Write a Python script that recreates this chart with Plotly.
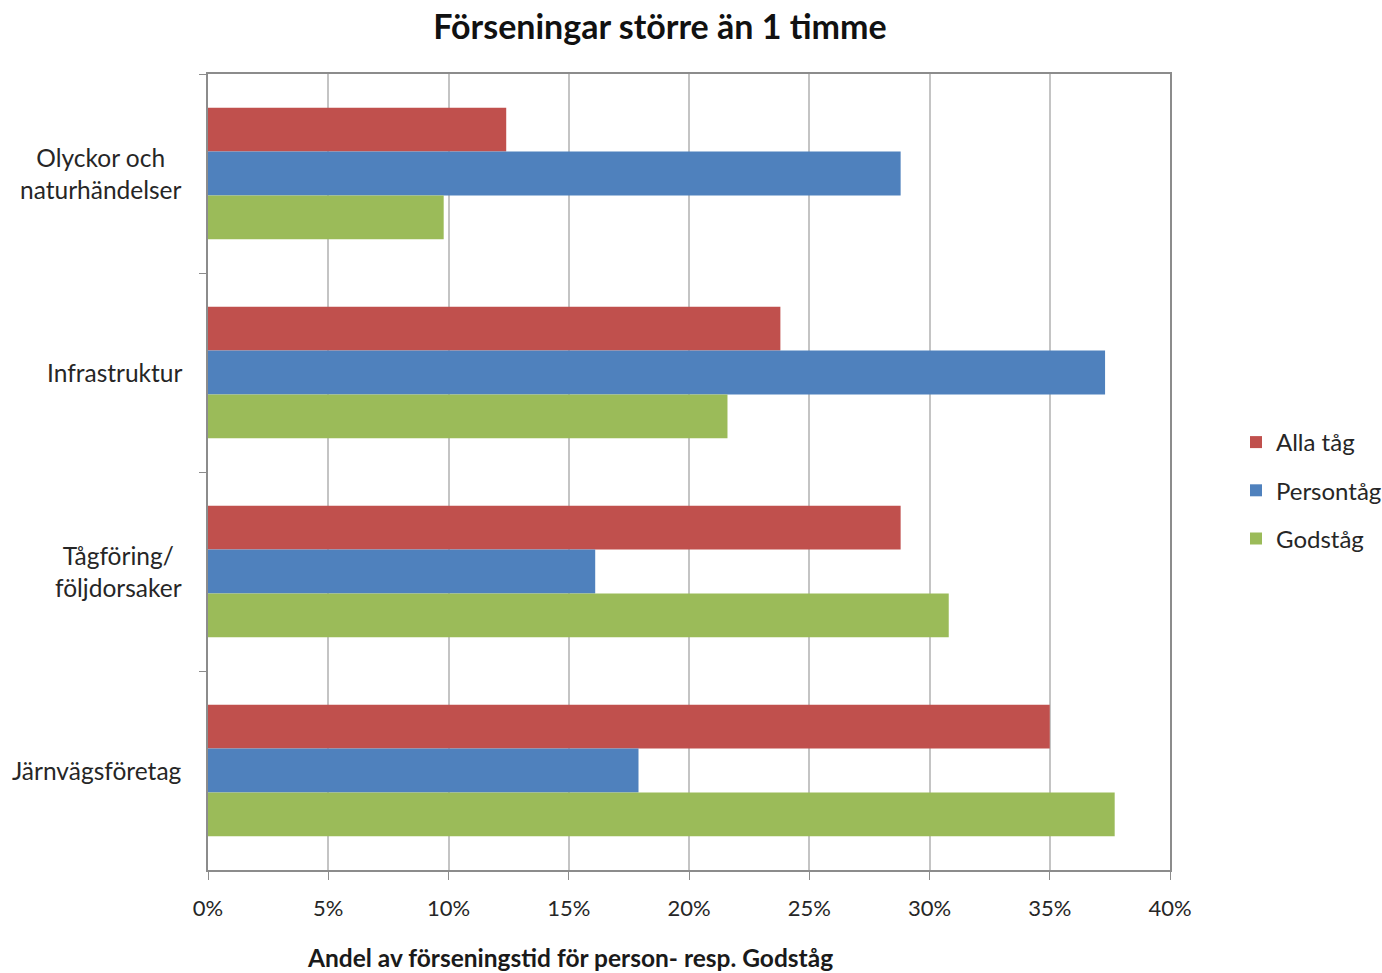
import plotly.graph_objects as go

# Categories (top to bottom) and share of delay time, in percent
categories = ["Olyckor och naturhändelser", "Infrastruktur", "Tågföring/följdorsaker", "Järnvägsföretag"]
category_labels = ["Olyckor och<br>naturhändelser", "Infrastruktur", "Tågföring/<br>följdorsaker", "Järnvägsföretag"]
alla_tag = [12.4, 23.8, 28.8, 35.0]
persontag = [28.8, 37.3, 16.1, 17.9]
godstag = [9.8, 21.6, 30.8, 37.7]

series_names = ["Alla tåg", "Persontåg", "Godståg"]
series_values = [alla_tag, persontag, godstag]
series_colors = ["#C0504D", "#4F81BD", "#9BBB59"]

x_ticks = [0, 5, 10, 15, 20, 25, 30, 35, 40]
x_tick_labels = ["0%", "5%", "10%", "15%", "20%", "25%", "30%", "35%", "40%"]

FONT = "Lato"

fig = go.Figure()
for name, vals, color in zip(series_names, series_values, series_colors):
    fig.add_trace(go.Bar(
        y=categories, x=vals, name=name, orientation="h",
        marker=dict(color=color, line=dict(width=0)),
        legendgroup=name,
    ))

# Centered, multi-line category labels to the left of the plot
for cat, lab in zip(categories, category_labels):
    fig.add_annotation(
        x=0, xref="paper", xanchor="right", xshift=-24,
        y=cat, yref="y", yanchor="middle",
        text=lab, showarrow=False, align="center",
        font=dict(family=FONT, size=24.5, color="#262626"),
    )

# Axis title, placed under the tick labels
fig.add_annotation(
    x=(570 - 208) / (1170 - 208), xref="paper",
    y=-(957 - 870) / (870 - 74), yref="paper",
    text="<b>Andel av förseningstid för person- resp. Godståg</b>",
    showarrow=False, font=dict(family=FONT, size=24.5, color="#1a1a1a"),
    xanchor="center", yanchor="middle",
)

fig.update_layout(
    width=1382, height=973,
    margin=dict(l=208, r=212, t=74, b=103),
    paper_bgcolor="white", plot_bgcolor="white",
    barmode="group", bargap=0.34, bargroupgap=0,
    title=dict(
        text="<b>Förseningar större än 1 timme</b>",
        x=660 / 1382, xanchor="center", y=1 - 27 / 973, yanchor="middle",
        font=dict(family=FONT, size=34, color="#111111"),
    ),
    font=dict(family=FONT, color="#262626"),
    legend=dict(
        x=1236 / 1382, xref="container", y=1 - 420 / 973, yref="container",
        xanchor="left", yanchor="top",
        font=dict(family=FONT, size=24, color="#262626"),
        tracegroupgap=14, bgcolor="rgba(0,0,0,0)",
    ),
    xaxis=dict(
        range=[0, 40], tickmode="array", tickvals=x_ticks, ticktext=x_tick_labels,
        showgrid=True, gridcolor="#C4C4C4", gridwidth=2,
        showline=True, linecolor="#8C8C8C", linewidth=2, mirror=True,
        ticks="outside", ticklen=8, tickcolor="#8C8C8C", tickwidth=1,
        ticklabelstandoff=10,
        tickfont=dict(family=FONT, size=22, color="#262626"),
        zeroline=False, fixedrange=True,
    ),
    yaxis=dict(
        type="category", categoryorder="array", categoryarray=categories,
        autorange="reversed", showticklabels=False,
        showline=True, linecolor="#8C8C8C", linewidth=2, mirror=True,
        ticks="outside", tickson="boundaries", ticklen=7, tickcolor="#8C8C8C",
        showgrid=False, fixedrange=True,
    ),
)

fig.write_html("out.html")
